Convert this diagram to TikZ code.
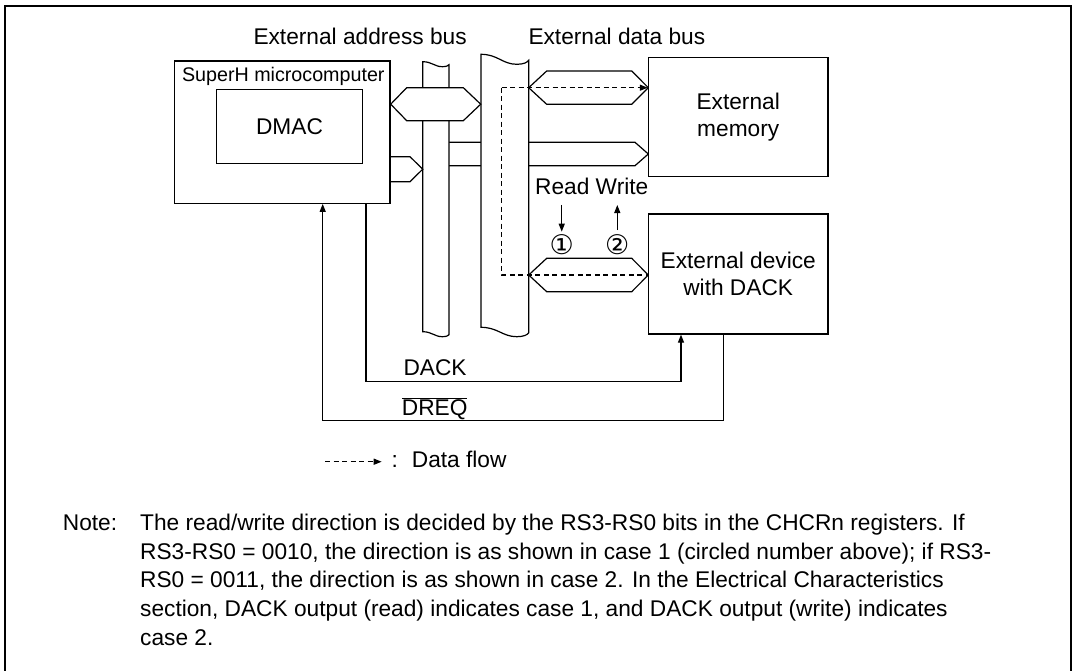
\documentclass[tikz,border=0pt]{standalone}
\usepackage{fontspec}
\setmainfont{Liberation Sans}
\newfontfamily\symfont{DejaVu Sans}
\usetikzlibrary{arrows.meta}
\begin{document}
\begin{tikzpicture}[x=1pt,y=-1pt,
  ln/.style={line width=1.2pt},
  box/.style={draw,line width=1.2pt,inner sep=0pt,fill=white,align=center,
    font=\fontsize{22.7}{27.3}\selectfont},
  txt/.style={font=\fontsize{22.7}{27.3}\selectfont,inner sep=0pt},
  circ/.style={inner sep=0pt,font=\symfont\fontsize{27}{27}\selectfont},
  tip/.style={-{Triangle[length=8pt,width=6pt]}},
  dsh/.style={dash pattern=on 5pt off 3.5pt,line width=1.2pt}]
\useasboundingbox (0,0) rectangle (1073,671);
% frame
\draw[line width=1.8pt] (5,671) -- (5,5.7) -- (1071,5.7) -- (1071,671);

% address bus to external memory (under the data bus)
\draw[ln] (449,142.3) -- (635,142.3) -- (648.3,154) -- (635,165.7) -- (449,165.7);

% external address bus bar
\draw[ln,fill=white] (422.7,61.7) .. controls (431.9,61.7) and (434.5,66.7) .. (442.4,66.7)
  .. controls (446.4,66.7) and (448.2,65.7) .. (449,64.7) -- (449,334.7)
  .. controls (448.2,335.7) and (446.4,336.7) .. (442.4,336.7)
  .. controls (434.5,336.7) and (431.9,331.7) .. (422.7,331.7) -- cycle;

% external data bus bar
\draw[ln,fill=white] (481,54.3) .. controls (497.7,54.3) and (502.5,64.3) .. (516.8,64.3)
  .. controls (523.9,64.3) and (527.3,62.3) .. (528.7,60.3) -- (528.7,332.9)
  .. controls (527.3,334.8) and (523.9,336.7) .. (516.8,336.7)
  .. controls (502.5,336.7) and (497.7,327.3) .. (481,327.3) -- cycle;

% bidirectional bus: microcomputer <-> data bus
\draw[ln,fill=white] (390.7,104.2) -- (406.7,87.7) -- (463.3,87.7) -- (480.7,104.2)
  -- (463.3,120.7) -- (406.7,120.7) -- cycle;
% address output
\draw[ln] (390,156.7) -- (410,156.7) -- (422.7,169.2) -- (410,181.7) -- (390,181.7);
% data bus <-> external memory
\draw[ln,fill=white] (528.7,87.7) -- (546.7,71) -- (631.7,71) -- (648.3,87.7)
  -- (631.7,104.3) -- (546.7,104.3) -- cycle;
% data bus <-> external device
\draw[ln,fill=white] (528.7,275) -- (546.7,258.3) -- (631.7,258.3) -- (648.3,275)
  -- (631.7,291.7) -- (546.7,291.7) -- cycle;

% boxes
\node[box,minimum width=215.7pt,minimum height=142.3pt] (superh) at (282.15,132.15) {};
\node[txt,anchor=base,font=\fontsize{19.7}{22}\selectfont] (superhl) at (283.3,81.7) {SuperH microcomputer};
\node[box,minimum width=145.6pt,minimum height=74pt] (dmac) at (289.5,126.3) {DMAC};
\node[box,minimum width=179.7pt,minimum height=119.4pt] (mem) at (738.2,117) {External\\memory};
\node[box,minimum width=179.7pt,minimum height=120pt] (dev) at (738.2,274) {External device\\with DACK};

% data flow (dashed)
\coordinate (dj) at (501.7,87.7);
\coordinate (dk) at (501.7,275);
\draw[dsh,tip] (dj) -- (dj -| mem.west);
\draw[dsh] (dj) -- (dk) -- (dk -| dev.west);

% circled numbers and read/write arrows
\node[circ] (c1) at (561.7,245) {①};
\node[circ] (c2) at (617.3,245) {②};
\node[txt,anchor=base west] (rw) at (535,195) {Read Write};
\draw[ln,tip] ([yshift=40pt]c1.center) -- ([yshift=13.3pt]c1.center);
\draw[ln,tip] ([yshift=15pt]c2.center) -- ([yshift=40pt]c2.center);

% DACK
\coordinate (dkA) at (366,381.7);
\coordinate (dkB) at (681,381.7);
\draw[ln,tip] (superh.south -| dkA) -- (dkA) -- (dkB) -- (dev.south -| dkB);
\node[txt,anchor=base west] (dackl) at (403.3,375.7) {DACK};
% DREQ
\coordinate (drA) at (723.3,420.7);
\coordinate (drB) at (322.7,420.7);
\draw[ln,tip] (dev.south -| drA) -- (drA) -- (drB) -- (superh.south -| drB);
\node[txt,anchor=base west] (dreql) at (401.7,415) {$\overline{\mbox{DREQ}}$};

% bus labels
\node[txt,anchor=base west] (abus) at (253.3,45) {External address bus};
\node[txt,anchor=base west] (dbus) at (528.3,45) {External data bus};

% legend
\coordinate (lg1) at (325,461.7);
\coordinate (lg2) at (381.7,461.7);
\draw[dsh,tip] (lg1) -- (lg2);
\node[txt,anchor=base west] (colon) at (391.5,467.7) {:};
\node[txt,anchor=base west] (dflow) at (411.7,467.7) {Data flow};

% note
\node[txt,anchor=base west] (note) at (62.7,530.7) {Note:};
\node[txt,anchor=base west] (n1) at (140,530.7) {The read/write direction is decided by the RS3-RS0 bits in the CHCRn registers. If};
\node[txt,anchor=base west] (n2) at (140,559.3) {RS3-RS0 = 0010, the direction is as shown in case 1 (circled number above); if RS3-};
\node[txt,anchor=base west] (n3) at (140,587.9) {RS0 = 0011, the direction is as shown in case 2. In the Electrical Characteristics};
\node[txt,anchor=base west] (n4) at (140,616.5) {section, DACK output (read) indicates case 1, and DACK output (write) indicates};
\node[txt,anchor=base west] (n5) at (140,645.1) {case 2.};
\end{tikzpicture}
\end{document}
